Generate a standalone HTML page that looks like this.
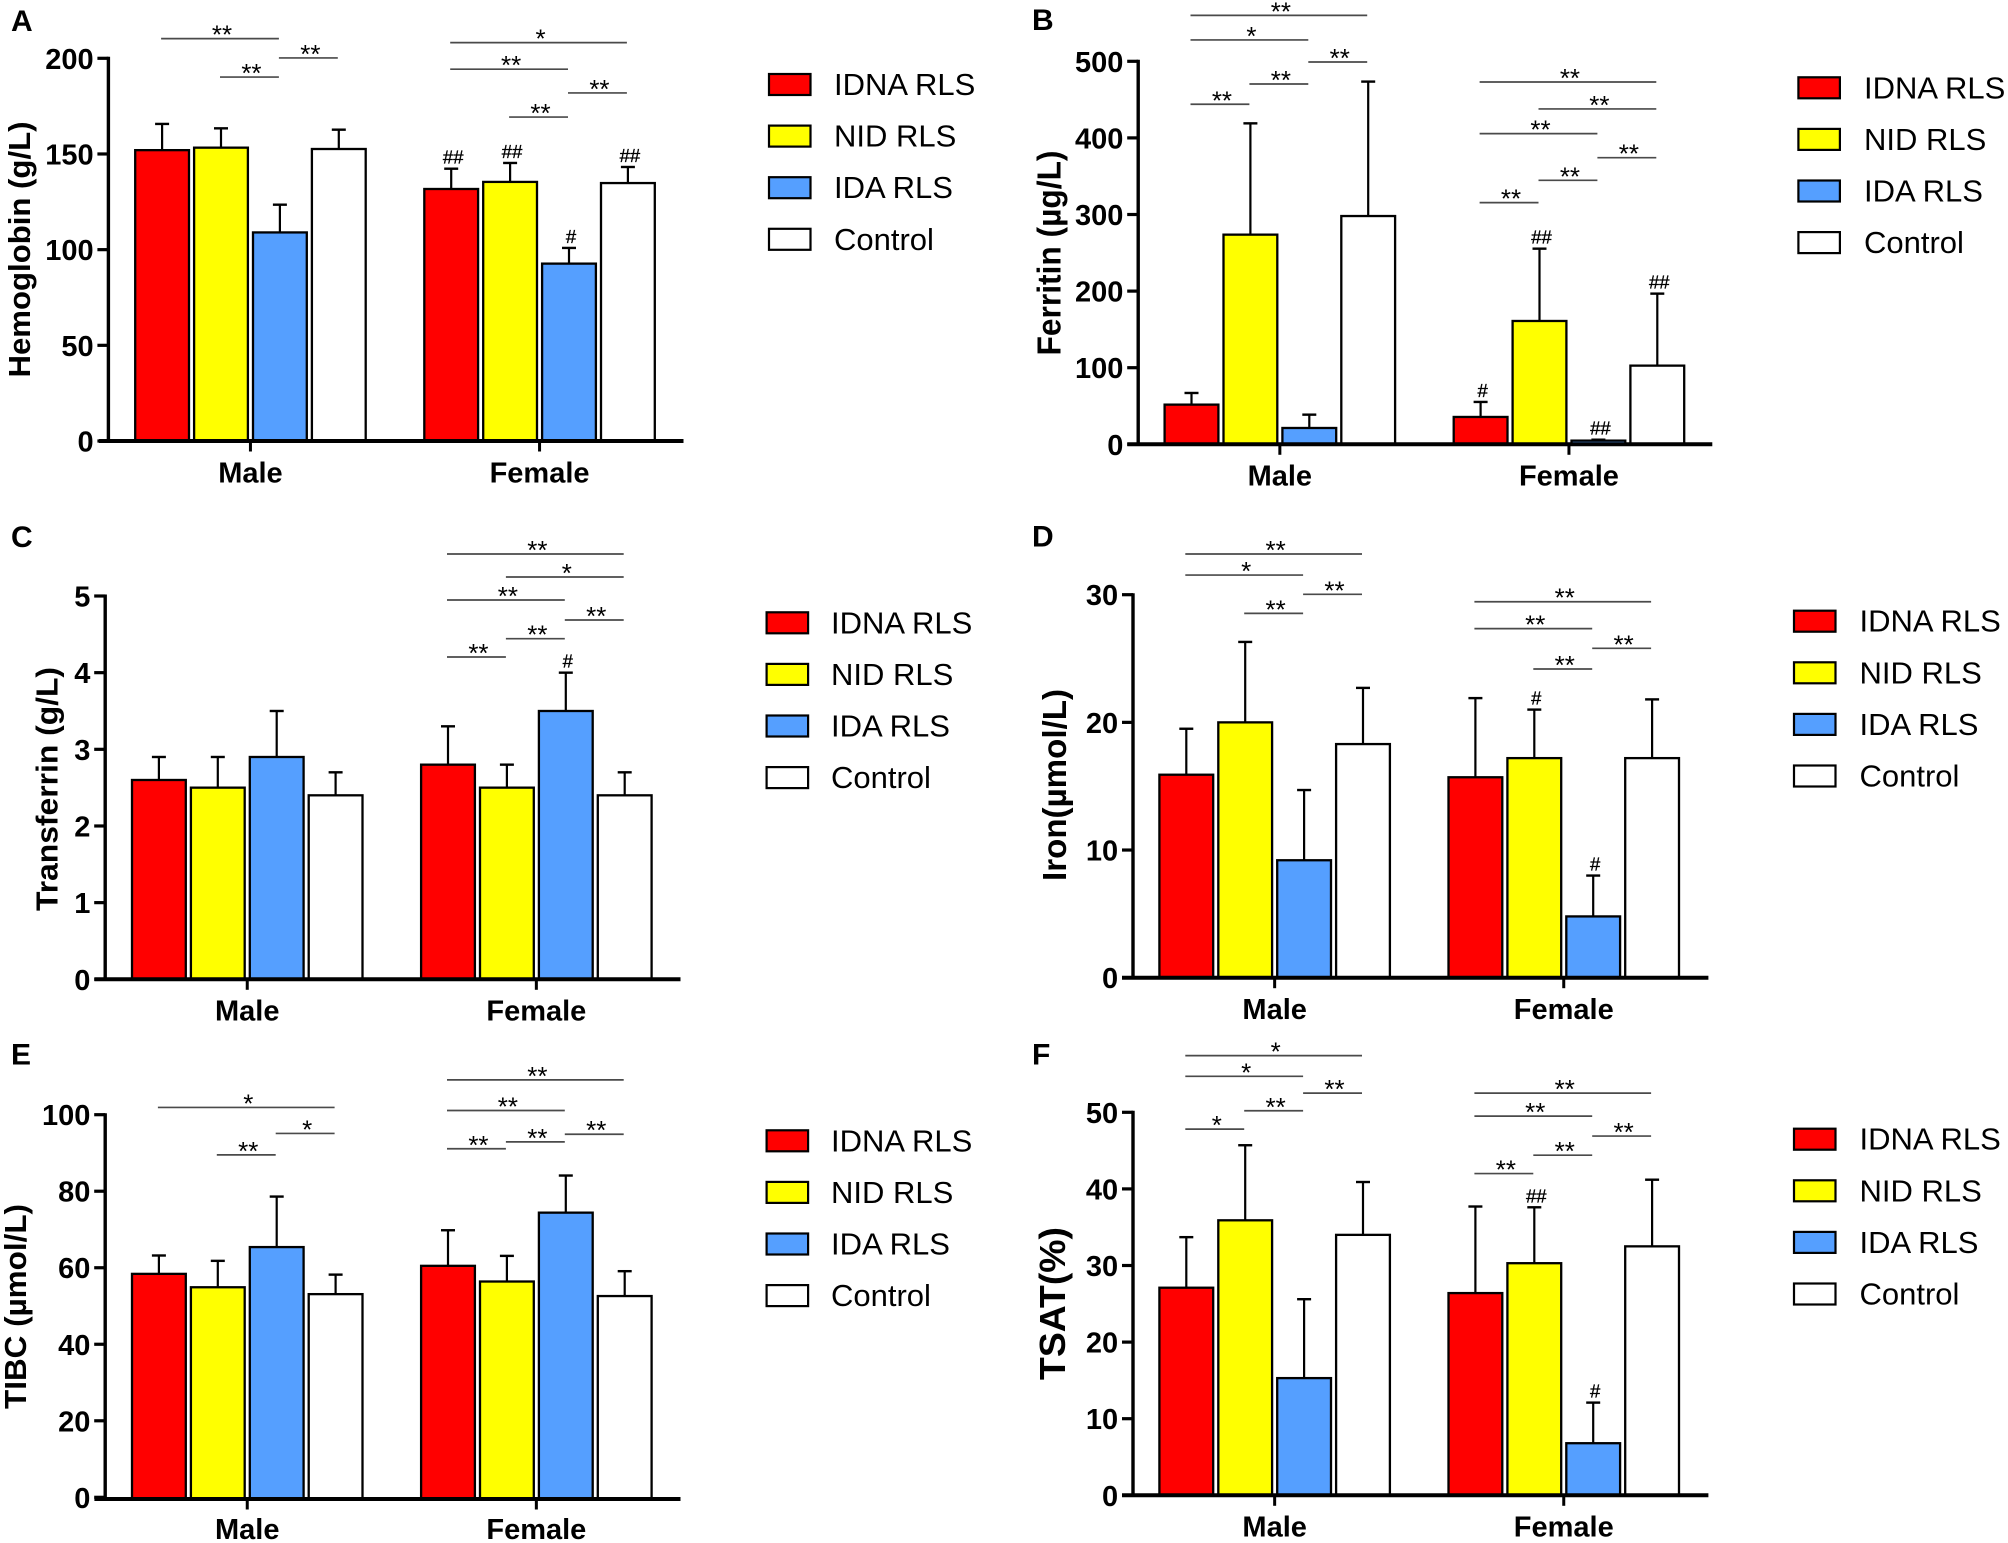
<!DOCTYPE html>
<html lang="en">
<head>
<meta charset="utf-8">
<title>Iron metabolism bar charts</title>
<style>
html,body{margin:0;padding:0;background:#fff;}
svg{display:block;font-family:"Liberation Sans",Arial,sans-serif;}
</style>
</head>
<body>
<svg id="figure" xmlns="http://www.w3.org/2000/svg" width="2008" height="1543" viewBox="0 0 2008 1543">
<rect x="0" y="0" width="2008" height="1543" fill="#ffffff"/>
</svg>
<script>
const categories = ['Male', 'Female'];
const seriesNames = ['IDNA RLS', 'NID RLS', 'IDA RLS', 'Control'];
const seriesColors = ['#ff0000', '#ffff00', '#559fff', '#ffffff'];

const hemoglobinTicks = [0, 50, 100, 150, 200];
const hemoglobinMeans = [152, 153.3, 109, 152.6, 131.7, 135.4, 92.7, 134.8];
const hemoglobinUppers = [165.7, 163.4, 123.5, 162.7, 142.3, 145.3, 100.9, 143.2];

const ferritinTicks = [0, 100, 200, 300, 400, 500];
const ferritinMeans = [51.8, 273.7, 21.3, 298, 35.7, 161, 4.8, 102.7];
const ferritinUppers = [67, 419, 38.7, 473.5, 55.3, 255.4, 6, 196.7];

const transferrinTicks = [0, 1, 2, 3, 4, 5];
const transferrinMeans = [2.6, 2.5, 2.9, 2.4, 2.8, 2.5, 3.5, 2.4];
const transferrinUppers = [2.9, 2.9, 3.5, 2.7, 3.3, 2.8, 4.0, 2.7];

const ironTicks = [0, 10, 20, 30];
const ironMeans = [15.9, 20, 9.2, 18.3, 15.7, 17.2, 4.8, 17.2];
const ironUppers = [19.5, 26.3, 14.7, 22.7, 21.9, 21, 8, 21.8];

const tibcTicks = [0, 20, 40, 60, 80, 100];
const tibcMeans = [58.4, 54.9, 65.4, 53.1, 60.5, 56.4, 74.4, 52.6];
const tibcUppers = [63.2, 61.8, 78.6, 58.2, 69.8, 63.1, 84.1, 59.1];

const tsatTicks = [0, 10, 20, 30, 40, 50];
const tsatMeans = [27.1, 35.9, 15.3, 34, 26.4, 30.3, 6.8, 32.5];
const tsatUppers = [33.7, 45.7, 25.6, 40.9, 37.7, 37.6, 12.1, 41.2];

/* significance brackets: from-bar, to-bar, level in axis units, label */
const hemoglobinBrackets = [[0,2,210.3,'**'],[1,2,190.2,'**'],[2,3,200.2,'**'],[4,7,208.2,'*'],[4,6,194.3,'**'],[6,7,181.9,'**'],[5,6,169.3,'**']];
const ferritinBrackets = [[0,3,560,'**'],[0,2,527.9,'*'],[2,3,499.1,'**'],[1,2,470.4,'**'],[0,1,443.9,'**'],[4,7,473,'**'],[5,7,437.8,'**'],[4,6,405.6,'**'],[6,7,374.2,'**'],[5,6,344.6,'**'],[4,5,315.5,'**']];
const transferrinBrackets = [[4,7,5.548,'**'],[5,7,5.248,'*'],[4,6,4.948,'**'],[6,7,4.687,'**'],[5,6,4.443,'**'],[4,5,4.204,'**']];
const ironBrackets = [[0,3,33.19,'**'],[0,2,31.54,'*'],[2,3,30.03,'**'],[1,2,28.54,'**'],[4,7,29.45,'**'],[4,6,27.34,'**'],[6,7,25.8,'**'],[5,6,24.18,'**']];
const tibcBrackets = [[0,3,101.9,'*'],[2,3,95.1,'*'],[1,2,89.5,'**'],[4,7,109.1,'**'],[4,6,101.1,'**'],[6,7,94.9,'**'],[5,6,92.9,'**'],[4,5,91.1,'**']];
const tsatBrackets = [[0,3,57.4,'*'],[0,2,54.7,'*'],[2,3,52.5,'**'],[1,2,50.2,'**'],[0,1,47.8,'*'],[4,7,52.5,'**'],[4,6,49.5,'**'],[6,7,46.9,'**'],[5,6,44.4,'**'],[4,5,42,'**']];

/* sex-difference markers: bar index, label */
const hemoglobinMarks = [[4,'##'],[5,'##'],[6,'#'],[7,'##']];
const ferritinMarks = [[4,'#'],[5,'##'],[6,'##'],[7,'##']];
const transferrinMarks = [[6,'#']];
const ironMarks = [[5,'#'],[6,'#']];
const tibcMarks = [];
const tsatMarks = [[5,'##'],[6,'#']];

const panels = [
  {id:'hemoglobin', letter:'A', letterX:11, letterY:31, title:'Hemoglobin (g/L)', titleX:30.2, titleMid:249.5, titleLen:256, titleSize:31,
   axisX:108.4, zeroY:441, axisY:441, topY:58.3, barX:135.2, lineStart:98.9, lineEnd:683.5, legX:769, legY:74, legTextX:834, labelDy:41.3,
   ticks:hemoglobinTicks, means:hemoglobinMeans, uppers:hemoglobinUppers, brackets:hemoglobinBrackets, marks:hemoglobinMarks},
  {id:'ferritin', letter:'B', letterX:1032, letterY:30, title:'Ferritin (\u00b5g/L)', titleX:1060.6, titleMid:253, titleLen:205, titleSize:33,
   axisX:1138.2, zeroY:444.3, axisY:444.3, topY:61.3, barX:1164.6, lineStart:1127.3, lineEnd:1712.3, legX:1798.4, legY:77.3, legTextX:1864, labelDy:41.3,
   ticks:ferritinTicks, means:ferritinMeans, uppers:ferritinUppers, brackets:ferritinBrackets, marks:ferritinMarks},
  {id:'transferrin', letter:'C', letterX:11, letterY:546.8, title:'Transferrin (g/L)', titleX:57.6, titleMid:789, titleLen:244, titleSize:31,
   axisX:105.2, zeroY:979.3, axisY:979.3, topY:596, barX:132, lineStart:94.4, lineEnd:680.5, legX:766.6, legY:612.3, legTextX:831, labelDy:41.3,
   ticks:transferrinTicks, means:transferrinMeans, uppers:transferrinUppers, brackets:transferrinBrackets, marks:transferrinMarks},
  {id:'iron', letter:'D', letterX:1032, letterY:546.7, title:'Iron(\u00b5mol/L)', titleX:1066, titleMid:785, titleLen:192, titleSize:33,
   axisX:1133, zeroY:977.7, axisY:977.7, topY:594.7, barX:1159.4, lineStart:1122, lineEnd:1708.4, legX:1794, legY:610.7, legTextX:1859.5, labelDy:41.3,
   ticks:ironTicks, means:ironMeans, uppers:ironUppers, brackets:ironBrackets, marks:ironMarks},
  {id:'tibc', letter:'E', letterX:11, letterY:1064.5, title:'TIBC (\u00b5mol/L)', titleX:26, titleMid:1306.5, titleLen:205, titleSize:31,
   axisX:105.2, zeroY:1497.3, axisY:1499, topY:1114.7, barX:132, lineStart:94.4, lineEnd:680.5, legX:766.6, legY:1130.3, legTextX:831, labelDy:40,
   ticks:tibcTicks, means:tibcMeans, uppers:tibcUppers, brackets:tibcBrackets, marks:tibcMarks},
  {id:'tsat', letter:'F', letterX:1032, letterY:1064.7, title:'TSAT(%)', titleX:1065, titleMid:1303.5, titleLen:153, titleSize:36,
   axisX:1133, zeroY:1495.3, axisY:1495.3, topY:1112.3, barX:1159.4, lineStart:1122, lineEnd:1708.4, legX:1794, legY:1128.7, legTextX:1859.5, labelDy:41.3,
   ticks:tsatTicks, means:tsatMeans, uppers:tsatUppers, brackets:tsatBrackets, marks:tsatMarks}
];

const SVG_NS = 'http://www.w3.org/2000/svg';
const BAR_W = 53.8, BAR_STEP = 58.9, GROUP_STEP = 289.1, LEG_STEP = 51.6;

function make(parent, tag, props, text) {
  const node = document.createElementNS(SVG_NS, tag);
  for (const key in props) node.setAttribute(key, props[key]);
  if (text !== undefined) node.textContent = text;
  parent.appendChild(node);
  return node;
}

function drawPanel(p) {
  const root = document.getElementById('figure');
  const tickMax = p.ticks[p.ticks.length - 1];
  const yOf = v => p.zeroY - (v / tickMax) * (p.zeroY - p.topY);
  const barLeft = i => p.barX + Math.floor(i / 4) * GROUP_STEP + (i % 4) * BAR_STEP;
  const barMid = i => barLeft(i) + BAR_W / 2;
  const groupMid = g => barLeft(g * 4) + (3 * BAR_STEP + BAR_W) / 2;

  const g = make(root, 'g', {});
  
  

  const letter = make(g, 'text', {x:p.letterX, y:p.letterY, 'font-size':30, 'font-weight':'bold', fill:'#000'}, p.letter);
  
  

  const title = make(g, 'text', {
    transform:'translate(' + p.titleX + ',' + p.titleMid + ') rotate(-90)',
    'text-anchor':'middle', 'font-size':p.titleSize, 'font-weight':'bold', fill:'#000',
    textLength:p.titleLen, lengthAdjust:'spacingAndGlyphs'
  }, p.title);
  
  

  p.means.forEach((mean, i) => {
    const cx = barMid(i);
    const series = i % 4;
    const sex = categories[Math.floor(i / 4)].toLowerCase();
    const err = make(g, 'line', {x1:cx, x2:cx, y1:yOf(mean), y2:yOf(p.uppers[i]), stroke:'#000', 'stroke-width':2.2});
    
    
    const cap = make(g, 'line', {x1:cx - 7, x2:cx + 7, y1:yOf(p.uppers[i]), y2:yOf(p.uppers[i]), stroke:'#000', 'stroke-width':2.4});
    
    
    const bar = make(g, 'rect', {x:barLeft(i), y:yOf(mean), width:BAR_W, height:Math.max(0, p.axisY - yOf(mean)), fill:seriesColors[series], stroke:'#000', 'stroke-width':2.3});
    
    
  });

  const yAxis = make(g, 'line', {x1:p.axisX, x2:p.axisX, y1:p.topY - 1.5, y2:p.axisY, stroke:'#000', 'stroke-width':3.4});
  
  

  p.ticks.forEach(t => {
    const y = yOf(t);
    const tick = make(g, 'line', {x1:p.axisX - 11, x2:p.axisX, y1:y, y2:y, stroke:'#000', 'stroke-width':3.2});
    
    
    const lab = make(g, 'text', {x:p.axisX - 14.8, y:y + 10.5, 'text-anchor':'end', 'font-size':29, 'font-weight':'bold', fill:'#000'}, String(t));
    
    
  });

  const xAxis = make(g, 'line', {x1:p.lineStart, x2:p.lineEnd, y1:p.axisY, y2:p.axisY, stroke:'#000', 'stroke-width':4});
  
  

  categories.forEach((c, gi) => {
    const mid = groupMid(gi);
    const tick = make(g, 'line', {x1:mid, x2:mid, y1:p.axisY, y2:p.axisY + 10.5, stroke:'#000', 'stroke-width':3});
    
    
    const lab = make(g, 'text', {x:mid, y:p.axisY + p.labelDy, 'text-anchor':'middle', 'font-size':29, 'font-weight':'bold', fill:'#000'}, c);
    
    
  });

  p.brackets.forEach(b => {
    const y = yOf(b[2]);
    const x1 = barMid(b[0]) - 1, x2 = barMid(b[1]) - 1;
    const line = make(g, 'line', {x1:x1, x2:x2, y1:y, y2:y, stroke:'#4a4a4a', 'stroke-width':1.7});
    
    
    const star = make(g, 'text', {x:(x1 + x2) / 2 + 2, y:y + 5, 'text-anchor':'middle', 'font-size':26, fill:'#000'}, b[3]);
    
    
  });

  p.marks.forEach(m => {
    const mark = make(g, 'text', {x:barMid(m[0]) + 2, y:yOf(p.uppers[m[0]]) - 5, 'text-anchor':'middle', 'font-size':18.5, fill:'#000', stroke:'#000', 'stroke-width':0.35}, m[1]);
    
    
  });

  seriesNames.forEach((s, i) => {
    const y = p.legY + i * LEG_STEP;
    const entry = make(g, 'g', {});
    
    
    const swatch = make(entry, 'rect', {x:p.legX, y:y, width:41.5, height:21, fill:seriesColors[i], stroke:'#000', 'stroke-width':2.2});
    
    
    const lab = make(entry, 'text', {x:p.legTextX, y:y + 21, 'font-size':31, fill:'#000'}, s);
    
    
  });
}

panels.forEach(drawPanel);
</script>
</body>
</html>
